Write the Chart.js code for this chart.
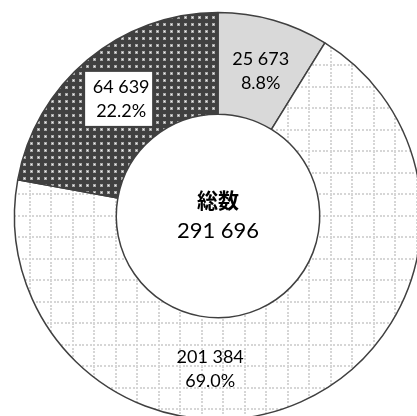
<!DOCTYPE html>
<html>
<head>
<meta charset="utf-8">
<script src="https://cdn.jsdelivr.net/npm/chart.js@4"></script>
<style>
  body { margin: 0; background: #fff; }
  #wrap { width: 417px; height: 416px; overflow: hidden; position: relative; }
  canvas { position: absolute; left: 0; top: 0; }
</style>
</head>
<body>
<div id="wrap"><canvas id="pie" width="436" height="432"></canvas></div>
<script>
// data
const categories = ['A', 'B', 'C'];
const values = [25673, 201384, 64639];
const centerTitle = '総数';

const total = values.reduce((a, b) => a + b, 0);

// numbers with a space between thousands
function fmt(n) {
    return String(n).replace(/\B(?=(\d{3})+(?!\d))/g, ' ');
}

// light dotted grid for the big slice
function gridPattern() {
    const c = document.createElement('canvas');
    c.width = 43; c.height = 43;
    const g = c.getContext('2d');
    g.fillStyle = '#ffffff';
    g.fillRect(0, 0, 43, 43);
    g.fillStyle = '#d6d6d6';
    for (let i = 0; i < 12; i++) {
        const p = Math.round(i * 43 / 12);
        g.fillRect(p, 0, 2, 2);
        g.fillRect(p, 21, 2, 2);
        g.fillRect(7, p, 2, 2);
        g.fillRect(29, p, 2, 2);
    }
    return g.createPattern(c, 'repeat');
}

// dark fill with pale dots
function dotPattern() {
    const c = document.createElement('canvas');
    c.width = 7; c.height = 7;
    const g = c.getContext('2d');
    g.fillStyle = '#404040';
    g.fillRect(0, 0, 7, 7);
    g.fillStyle = '#a8a8a8';
    g.fillRect(2, 2, 3, 3);
    g.fillStyle = '#f4f4f4';
    g.fillRect(3, 3, 1, 1);
    return g.createPattern(c, 'repeat');
}

const fills = ['#d9d9d9', gridPattern(), dotPattern()];
const labelShift = [[1, 2], [-70, 14], [1, 0]];
const labelBox = [false, false, true];

const labelPlugin = {
    id: 'sliceLabels',
    afterDatasetsDraw(chart) {
        const ctx = chart.ctx;
        const meta = chart.getDatasetMeta(0);
        ctx.save();
        ctx.textAlign = 'center';
        ctx.textBaseline = 'middle';
        meta.data.forEach((arc, i) => {
            const p = arc.tooltipPosition();
            const x = p.x + labelShift[i][0];
            const y = p.y + labelShift[i][1];
            if (labelBox[i]) {
                ctx.fillStyle = '#ffffff';
                ctx.fillRect(x - 36, y - 27, 67, 54);
            }
            ctx.fillStyle = '#000000';
            ctx.font = '18px Lato';
            ctx.fillText(fmt(values[i]), x, y - 12);
            ctx.fillText((values[i] / total * 100).toFixed(1) + '%', x, y + 12);
        });
        // centre text
        const cx = meta.data[0].x, cy = meta.data[0].y;
        ctx.font = 'bold 21px Lato, "Noto Sans CJK JP"';
        ctx.fillText(centerTitle, cx, cy - 15);
        ctx.font = '22px Lato';
        ctx.fillText(fmt(total), cx, cy + 15);
        ctx.restore();
    }
};

new Chart(document.getElementById('pie'), {
    type: 'doughnut',
    data: {
        labels: categories,
        datasets: [{
            data: values,
            backgroundColor: fills,
            borderColor: '#404040',
            borderWidth: 1.5,
            hoverBorderWidth: 1.5
        }]
    },
    options: {
        responsive: false,
        animation: false,
        radius: 203.5,
        cutout: '50%',
        plugins: { legend: { display: false }, tooltip: { enabled: false } }
    },
    plugins: [labelPlugin]
});
</script>
</body>
</html>
